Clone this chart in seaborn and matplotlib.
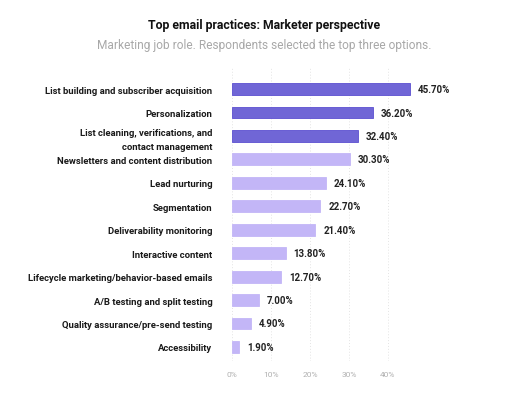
import matplotlib.pyplot as plt
import seaborn as sns
import pandas as pd

practices = [
    "List building and subscriber acquisition",
    "Personalization",
    "List cleaning, verifications, and\ncontact management",
    "Newsletters and content distribution",
    "Lead nurturing",
    "Segmentation",
    "Deliverability monitoring",
    "Interactive content",
    "Lifecycle marketing/behavior-based emails",
    "A/B testing and split testing",
    "Quality assurance/pre-send testing",
    "Accessibility",
]
shares = [45.7, 36.2, 32.4, 30.3, 24.1, 22.7, 21.4, 13.8, 12.7, 7.0, 4.9, 1.9]
top_three = 3
x_ticks = [0, 10, 20, 30, 40]

df = pd.DataFrame({"practice": practices, "share": shares})
dark, light = "#7066d6", "#c3b6f7"
colors = [dark if i < top_three else light for i in range(len(practices))]

sns.set_style("white")
plt.rcParams["font.family"] = ["Roboto", "DejaVu Sans"]

fig = plt.figure(figsize=(5.12, 4.06), dpi=100)
ax = fig.add_axes([0.453, 0.1084, 0.381, 0.7217])

sns.barplot(data=df, x="share", y="practice", hue="practice", palette=colors,
            legend=False, width=0.51, ax=ax, saturation=1)

for i, p in enumerate(ax.patches):
    p.set_edgecolor("#5b4fd0" if i < top_three else light)
    p.set_linewidth(0.6)

for i, v in enumerate(shares):
    ax.text(v + 2.0, i, f"{v:.2f}%", va="center", ha="left",
            fontsize=7, fontweight="bold", color="#222222")

ax.set_xlim(0, 50)
ax.set_ylim(11.6, -0.9)
ax.set_xticks(x_ticks)
ax.set_xticklabels([f"{t}%" for t in x_ticks], color="#b0b0b0", fontsize=6)
for t in x_ticks:
    ax.axvline(t, color="#e4e4e4", lw=0.7, ls=(0, (1, 2)), zorder=0)
ax.tick_params(axis="y", length=0, pad=14, labelsize=6.8)
ax.tick_params(axis="x", length=0, pad=7)
for lbl in ax.get_yticklabels():
    lbl.set_fontweight("bold")
    lbl.set_color("#1a1a1a")
    lbl.set_multialignment("right")
    lbl.set_linespacing(1.75)
ax.set_xlabel("")
ax.set_ylabel("")
sns.despine(ax=ax, left=True, bottom=True)

fig.text(0.516, 0.938, "Top email practices: Marketer perspective",
         ha="center", va="center", fontsize=8.8, fontweight="bold", color="#111111")
fig.text(0.516, 0.887, "Marketing job role. Respondents selected the top three options.",
         ha="center", va="center", fontsize=8.6, color="#a8a8a8")

fig.savefig("out.png", dpi=100)
